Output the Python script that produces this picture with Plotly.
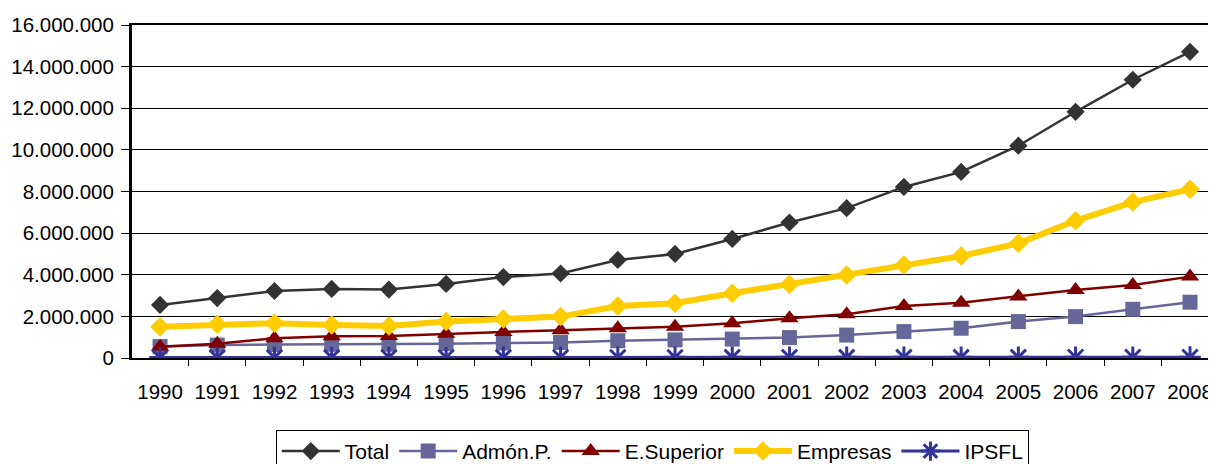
import plotly.graph_objects as go

years = [str(y) for y in range(1990, 2009)]
total = [2550000, 2880000, 3220000, 3320000, 3290000, 3560000, 3890000, 4060000, 4710000, 5000000,
         5720000, 6510000, 7200000, 8220000, 8940000, 10200000, 11830000, 13370000, 14710000]
admon = [550000, 620000, 650000, 660000, 660000, 690000, 720000, 750000, 830000, 870000,
         910000, 980000, 1100000, 1270000, 1430000, 1750000, 1990000, 2340000, 2680000]
esup = [540000, 680000, 950000, 1050000, 1060000, 1170000, 1250000, 1330000, 1430000, 1500000,
        1670000, 1910000, 2100000, 2500000, 2660000, 2950000, 3270000, 3510000, 3910000]
empresas = [1500000, 1620000, 1670000, 1590000, 1540000, 1750000, 1870000, 1990000, 2500000, 2630000,
            3110000, 3540000, 3990000, 4470000, 4900000, 5510000, 6600000, 7490000, 8110000]
ipsfl = [20000, 22000, 24000, 25000, 26000, 27000, 28000, 29000, 30000, 31000,
         32000, 33000, 34000, 35000, 36000, 37000, 38000, 39000, 40000]
y_ticks = [0, 2000000, 4000000, 6000000, 8000000, 10000000, 12000000, 14000000, 16000000]

series = [
    ("Total", total, "#333333", 2.5, "diamond", 14, 0),
    ("Admón.P.", admon, "#666699", 2.5, "square", 15, 0),
    ("E.Superior", esup, "#800000", 2.5, "triangle-up", 16, 0),
    ("Empresas", empresas, "#FFCC00", 6, "diamond", 15, 0),
    ("IPSFL", ipsfl, "#333399", 3, "asterisk-open", 18, 3),
]

fig = go.Figure()
for name, vals, col, lw, sym, ms, mlw in series:
    marker = dict(symbol=sym, size=ms, color=col)
    if mlw:
        marker["line"] = dict(color=col, width=mlw)
    else:
        marker["line"] = dict(width=0)
    fig.add_trace(go.Scatter(x=years, y=vals, name=name, mode="lines+markers",
                             line=dict(color=col, width=lw), marker=marker,
                             hoverinfo="skip"))

font = "Liberation Sans, Arial, sans-serif"
# page body has an 8px margin: figure starts at (8, 8) on screen
fig.update_layout(
    width=1208, height=472,
    margin=dict(l=124, r=0, t=17, b=122),
    paper_bgcolor="white", plot_bgcolor="white",
    separators=",.",
    font=dict(family=font, size=21, color="black"),
    showlegend=True,
    legend=dict(orientation="h", x=0.48, xanchor="center", y=-0.216, yanchor="top",
                bordercolor="black", borderwidth=1, font=dict(size=21, family=font),
                traceorder="normal", itemwidth=58),
    xaxis=dict(type="category", range=[-0.49, 18.454], showgrid=False, automargin=False,
               showline=True, linecolor="black", linewidth=2, mirror=True,
               ticks="outside", tickson="boundaries", ticklen=6, tickcolor="black",
               tickfont=dict(size=20.5), ticklabelstandoff=14, fixedrange=True),
    yaxis=dict(range=[0, 16000000], tickvals=y_ticks, tickformat=",d", automargin=False,
               showgrid=True, gridcolor="black", gridwidth=1,
               showline=True, linecolor="black", linewidth=3,
               ticks="outside", ticklen=8, tickcolor="black",
               tickfont=dict(size=20.5), ticklabelstandoff=3, zeroline=False, fixedrange=True),
)

fig.write_html("out.html")
